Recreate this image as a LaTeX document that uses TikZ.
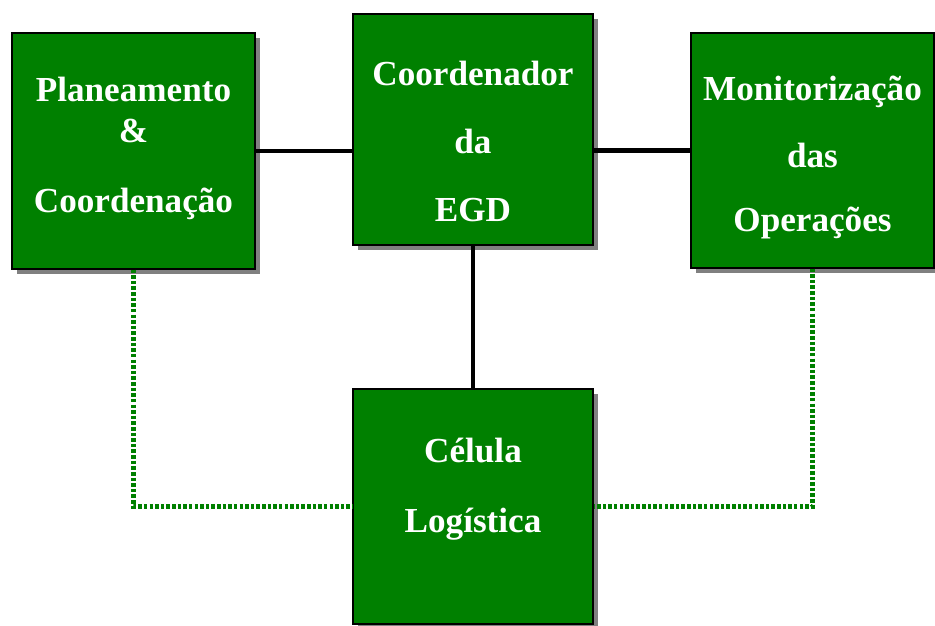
\documentclass[tikz,border=0pt]{standalone}
\usepackage{fontspec}
\newfontfamily\boxfont{Liberation Serif}
\usetikzlibrary{shadows}

\definecolor{unitgreen}{RGB}{0,128,0}

\begin{document}
\begin{tikzpicture}[
    x=0.03cm,y=-0.03cm,
    unit/.style={rectangle,draw=black,line width=0.9pt,fill=unitgreen,inner sep=0pt,
      minimum width=7.2cm,minimum height=7.05cm,
      drop shadow={shadow xshift=0.15cm,shadow yshift=-0.15cm,fill=gray,opacity=1}},
    txt/.style={text=white,align=center,inner sep=0pt,font=\boxfont\bfseries\fontsize{30}{57}\selectfont},
    link/.style={draw=black,line width=4pt},
    dotlink/.style={draw=unitgreen,line width=4pt,dash pattern=on 3pt off 1.8pt}
    ]

    \useasboundingbox (0,0) rectangle (935,626);

    \node (plan) [unit,minimum width=7.29cm,minimum height=7.08cm,
      label={[txt,yshift=0.07cm]center:{Planeamento\\[-22pt]\&\\[2.5pt]Coordenação}}] at (133.5,151) {};

    \node (coord) [unit,minimum height=6.93cm,
      label={[txt,yshift=-0.35cm]center:{Coordenador\\[1pt]da\\[1pt]EGD}}] at (473,129.5) {};

    \node (monit) [unit,minimum width=7.29cm,
      label={[txt,yshift=-0.21cm]center:{Monitorização\\das\\[-1.7pt]Operações}}] at (812.5,150.5) {};

    \node (cell) [unit,
      label={[txt,yshift=0.52cm]center:{Célula\\[2.5pt]Logística}}] at (473,506.5) {};

    \draw[link] (plan.east) -- (plan.east -| coord.west);
    \draw[link] (monit.west -| coord.east) -- (monit.west);
    \draw[link] (coord.south) -- (cell.north);

    \draw[dotlink] (plan.south) |- (cell.west);
    \draw[dotlink] (monit.south) |- (cell.east);

\end{tikzpicture}
\end{document}
